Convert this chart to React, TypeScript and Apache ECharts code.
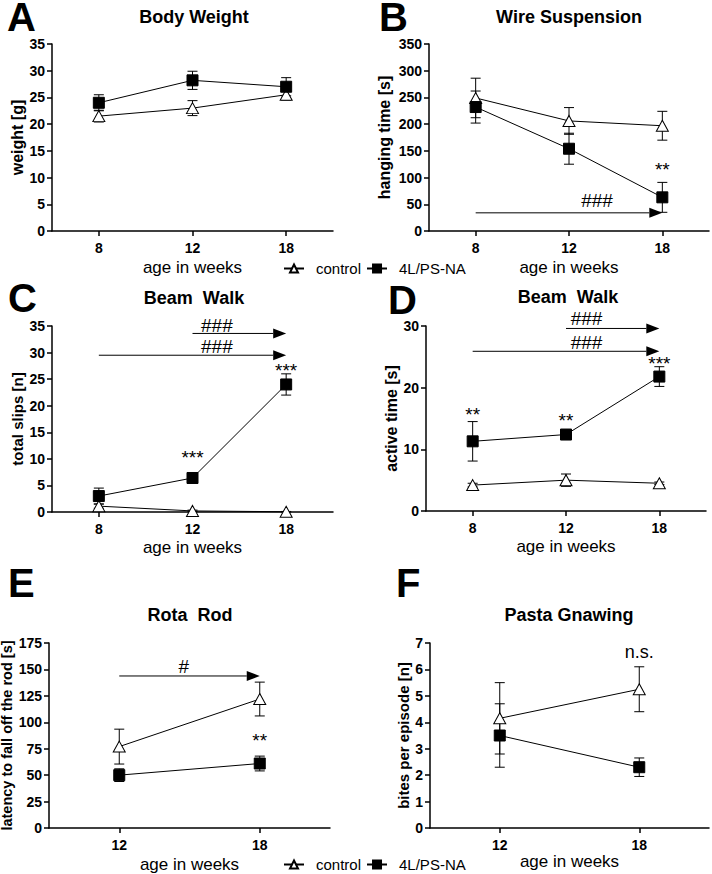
import React, { useEffect, useRef } from 'react';
import * as echarts from 'echarts';

const FONT = "'Liberation Sans', Arial, Helvetica, sans-serif";

// categories
const weeks3 = ['8', '12', '18'];
const weeks2 = ['12', '18'];

// A – Body Weight
const bwCtrl = [21.5, 23.0, 25.5];
const bwCtrlErr = [1.1, 1.4, 1.0];
const bwLes = [24.0, 28.2, 27.0];
const bwLesErr = [1.5, 1.7, 1.7];

// B – Wire Suspension
const wsCtrl = [249, 206, 197];
const wsCtrlErr = [37, 25, 27];
const wsLes = [232, 154, 63];
const wsLesErr = [30, 29, 28];

// C – Beam Walk, total slips
const slipsCtrl = [1.1, 0.2, 0.05];
const slipsCtrlErr = [0.4, 0.15, 0.05];
const slipsLes = [3.0, 6.4, 24.0];
const slipsLesErr = [1.5, 0.5, 2.0];

// D – Beam Walk, active time
const activeCtrl = [4.2, 5.0, 4.5];
const activeCtrlErr = [0.3, 1.0, 0.2];
const activeLes = [11.3, 12.4, 21.8];
const activeLesErr = [3.2, 0.4, 1.6];

// E – Rota Rod
const rotaCtrl = [77, 122];
const rotaCtrlErr = [16.5, 16];
const rotaLes = [50, 61];
const rotaLesErr = [6, 7];

// F – Pasta Gnawing
const pastaCtrl = [4.15, 5.25];
const pastaCtrlErr = [1.35, 0.85];
const pastaLes = [3.5, 2.3];
const pastaLesErr = [1.2, 0.35];

// significance arrows: [fromCategory, toCategory, yValue]
const wsArrows = [[0, 2, 34]];
const slipsArrows = [[1, 2, 33.6], [0, 2, 29.5]];
const activeArrows = [[1, 2, 29.6], [0, 2, 25.9]];
const rotaArrows = [[0, 1, 143.8]];

// significance marks: [fromCategory, toCategory, fraction, yValue, text]
const wsMarks: any[] = [[2, 2, 0, 123, '**'], [0, 2, 0.65, 58, '###']];
const slipsMarks: any[] = [
  [1, 1, 0, 11.1, '***'],
  [2, 2, 0, 27.3, '***'],
  [1, 2, 0.26, 35.1, '###'],
  [0, 2, 0.63, 31.1, '###'],
];
const activeMarks: any[] = [
  [0, 0, 0, 16.3, '**'],
  [1, 1, 0, 15.25, '**'],
  [2, 2, 0, 24.5, '***'],
  [1, 2, 0.22, 31.2, '###'],
  [0, 2, 0.61, 27.4, '###'],
];
const rotaMarks: any[] = [[1, 1, 0, 86.2, '**'], [0, 1, 0.46, 152.3, '#']];
const pastaMarks: any[] = [[1, 1, 0, 6.66, 'n.s.']];

const legendNames = ['control', '4L/PS-NA'];

type Panel = {
  grid: { left: number; top: number; width: number; height: number };
  cats: string[];
  ctrl: number[]; ctrlErr: number[]; les: number[]; lesErr: number[];
  yMax: number; yInterval: number;
  yName: string; yNameGap: number; yNameSize: number;
  xNameGap: number;
  arrows: number[][]; marks: any[];
};

const panels: Panel[] = [
  { grid: { left: 52, top: 44, width: 281, height: 187 }, cats: weeks3, ctrl: bwCtrl, ctrlErr: bwCtrlErr, les: bwLes, lesErr: bwLesErr, yMax: 35, yInterval: 5, yName: 'weight [g]', yNameGap: 26, yNameSize: 16, xNameGap: 28, arrows: [], marks: [] },
  { grid: { left: 429, top: 44, width: 280, height: 187 }, cats: weeks3, ctrl: wsCtrl, ctrlErr: wsCtrlErr, les: wsLes, lesErr: wsLesErr, yMax: 350, yInterval: 50, yName: 'hanging time [s]', yNameGap: 37, yNameSize: 16, xNameGap: 28, arrows: wsArrows, marks: wsMarks },
  { grid: { left: 52, top: 326, width: 281, height: 186 }, cats: weeks3, ctrl: slipsCtrl, ctrlErr: slipsCtrlErr, les: slipsLes, lesErr: slipsLesErr, yMax: 35, yInterval: 5, yName: 'total slips [n]', yNameGap: 27, yNameSize: 15, xNameGap: 27, arrows: slipsArrows, marks: slipsMarks },
  { grid: { left: 426, top: 326, width: 280, height: 185 }, cats: weeks3, ctrl: activeCtrl, ctrlErr: activeCtrlErr, les: activeLes, lesErr: activeLesErr, yMax: 30, yInterval: 10, yName: 'active time [s]', yNameGap: 24, yNameSize: 16, xNameGap: 27, arrows: activeArrows, marks: activeMarks },
  { grid: { left: 49, top: 643, width: 281, height: 185 }, cats: weeks2, ctrl: rotaCtrl, ctrlErr: rotaCtrlErr, les: rotaLes, lesErr: rotaLesErr, yMax: 175, yInterval: 25, yName: 'latency to fall off the rod [s]', yNameGap: 33, yNameSize: 14.5, xNameGap: 28, arrows: rotaArrows, marks: rotaMarks },
  { grid: { left: 430, top: 643, width: 279, height: 185 }, cats: weeks2, ctrl: pastaCtrl, ctrlErr: pastaCtrlErr, les: pastaLes, lesErr: pastaLesErr, yMax: 7, yInterval: 1, yName: 'bites per episode [n]', yNameGap: 18, yNameSize: 15, xNameGap: 25, arrows: [], marks: pastaMarks },
];

const titles = [
  { text: 'Body Weight', x: 194, y: 17 },
  { text: 'Wire Suspension', x: 569, y: 17 },
  { text: 'Beam  Walk', x: 194, y: 298 },
  { text: 'Beam  Walk', x: 568, y: 297 },
  { text: 'Rota  Rod', x: 190, y: 615 },
  { text: 'Pasta Gnawing', x: 569, y: 615 },
];

const letters = [
  { text: 'A', x: 7, y: 0 },
  { text: 'B', x: 379, y: 0 },
  { text: 'C', x: 8, y: 281 },
  { text: 'D', x: 388, y: 283 },
  { text: 'E', x: 8, y: 566 },
  { text: 'F', x: 396, y: 566 },
];

const BLACK = '#000';

function errSeries(i: number, vals: number[], errs: number[]) {
  return {
    type: 'custom',
    xAxisIndex: i,
    yAxisIndex: i,
    z: 1,
    silent: true,
    clip: false,
    data: vals.map((v, k) => [k, v - errs[k], v + errs[k]]),
    encode: { x: 0, y: [1, 2] },
    renderItem: (_p: any, api: any) => {
      const x = api.value(0);
      const lo = api.coord([x, api.value(1)]);
      const hi = api.coord([x, api.value(2)]);
      const w = 5;
      const st = { stroke: BLACK, lineWidth: 1, fill: null };
      return {
        type: 'group',
        children: [
          { type: 'line', shape: { x1: lo[0], y1: lo[1], x2: hi[0], y2: hi[1] }, style: st },
          { type: 'line', shape: { x1: lo[0] - w, y1: lo[1], x2: lo[0] + w, y2: lo[1] }, style: st },
          { type: 'line', shape: { x1: hi[0] - w, y1: hi[1], x2: hi[0] + w, y2: hi[1] }, style: st },
        ],
      };
    },
  };
}

function arrowSeries(i: number, arrows: number[][]) {
  return {
    type: 'custom',
    xAxisIndex: i,
    yAxisIndex: i,
    z: 4,
    silent: true,
    clip: false,
    data: arrows,
    encode: { x: [0, 1], y: 2 },
    renderItem: (_p: any, api: any) => {
      const a = api.coord([api.value(0), api.value(2)]);
      const b = api.coord([api.value(1), api.value(2)]);
      const L = 13;
      const H = 5;
      return {
        type: 'group',
        children: [
          { type: 'line', shape: { x1: a[0], y1: a[1], x2: b[0] - L, y2: b[1] }, style: { stroke: BLACK, lineWidth: 1 } },
          { type: 'polygon', shape: { points: [[b[0] - L, b[1] - H], [b[0], b[1]], [b[0] - L, b[1] + H]] }, style: { fill: BLACK } },
        ],
      };
    },
  };
}

function markSeries(i: number, marks: any[]) {
  return {
    type: 'custom',
    xAxisIndex: i,
    yAxisIndex: i,
    z: 4,
    silent: true,
    clip: false,
    data: marks.map((m) => [m[0], m[1], m[2], m[3]]),
    encode: { x: [0, 1], y: 3 },
    renderItem: (p: any, api: any) => {
      const a = api.coord([api.value(0), api.value(3)]);
      const b = api.coord([api.value(1), api.value(3)]);
      const f = api.value(2);
      const t: string = marks[p.dataIndex][4];
      const x = a[0] + (b[0] - a[0]) * f;
      const dy = t.indexOf('*') >= 0 ? 4 : 0;
      return {
        type: 'text',
        x,
        y: a[1] + dy,
        style: {
          text: t,
          fontFamily: FONT,
          fontSize: t === 'n.s.' ? 18 : 19,
          fill: BLACK,
          align: 'center',
          verticalAlign: 'middle',
        },
      };
    },
  };
}

function buildOption() {
  const grid: any[] = [];
  const xAxis: any[] = [];
  const yAxis: any[] = [];
  const series: any[] = [];

  panels.forEach((p, i) => {
    grid.push({ ...p.grid, containLabel: false, outerBoundsMode: 'none' });
    xAxis.push({
      gridIndex: i,
      type: 'category',
      data: p.cats,
      boundaryGap: true,
      name: 'age in weeks',
      nameLocation: 'middle',
      nameGap: p.xNameGap,
      nameTextStyle: { fontFamily: FONT, fontSize: 17, color: BLACK },
      axisLine: { show: true, lineStyle: { color: BLACK, width: 1.5 } },
      axisTick: { show: true, alignWithLabel: true, length: 5, lineStyle: { color: BLACK, width: 1.5 } },
      axisLabel: { fontFamily: FONT, fontWeight: 'bold', fontSize: 14, color: BLACK, margin: 10 },
      splitLine: { show: false },
    });
    yAxis.push({
      gridIndex: i,
      type: 'value',
      min: 0,
      max: p.yMax,
      interval: p.yInterval,
      name: p.yName,
      nameLocation: 'middle',
      nameGap: p.yNameGap,
      nameTextStyle: { fontFamily: FONT, fontWeight: 'bold', fontSize: p.yNameSize, color: BLACK },
      axisLine: { show: true, lineStyle: { color: BLACK, width: 1.5 } },
      axisTick: { show: true, length: 5, lineStyle: { color: BLACK, width: 1.5 } },
      axisLabel: { fontFamily: FONT, fontWeight: 'bold', fontSize: 14, color: BLACK, margin: 7 },
      splitLine: { show: false },
    });

    series.push(errSeries(i, p.ctrl, p.ctrlErr));
    series.push(errSeries(i, p.les, p.lesErr));
    series.push({
      type: 'line',
      name: 'control',
      xAxisIndex: i,
      yAxisIndex: i,
      data: p.ctrl,
      z: 3,
      clip: false,
      symbol: 'triangle',
      symbolSize: [12, 11],
      showAllSymbol: true,
      lineStyle: { color: BLACK, width: 1 },
      itemStyle: { color: '#fff', borderColor: BLACK, borderWidth: 1 },
      emphasis: { disabled: true },
    });
    series.push({
      type: 'line',
      name: '4L/PS-NA',
      xAxisIndex: i,
      yAxisIndex: i,
      data: p.les,
      z: 3,
      clip: false,
      symbol: 'rect',
      symbolSize: 11,
      showAllSymbol: true,
      lineStyle: { color: BLACK, width: 1 },
      itemStyle: { color: BLACK, borderColor: BLACK, borderWidth: 1 },
      emphasis: { disabled: true },
    });
    if (p.arrows.length) series.push(arrowSeries(i, p.arrows));
    if (p.marks.length) series.push(markSeries(i, p.marks));
  });

  const legendBase = {
    data: legendNames,
    left: 283,
    orient: 'horizontal',
    itemWidth: 20,
    itemHeight: 10,
    itemGap: 5,
    selectedMode: false,
    padding: 0,
    textStyle: { fontFamily: FONT, fontSize: 15, color: BLACK, padding: [0, 0, 0, 7] },
  };

  const graphic: any[] = [];
  titles.forEach((t) => {
    graphic.push({
      type: 'text',
      x: t.x,
      y: t.y,
      style: { text: t.text, fontFamily: FONT, fontWeight: 'bold', fontSize: 18, fill: BLACK, align: 'center', verticalAlign: 'middle' },
    });
  });
  letters.forEach((t) => {
    graphic.push({
      type: 'text',
      x: t.x,
      y: t.y,
      style: { text: t.text, fontFamily: FONT, fontWeight: 'bold', fontSize: 40, lineHeight: 34, fill: BLACK, align: 'left', verticalAlign: 'top' },
    });
  });

  return {
    animation: false,
    backgroundColor: '#fff',
    textStyle: { fontFamily: FONT },
    grid,
    xAxis,
    yAxis,
    series,
    legend: [
      { ...legendBase, top: 261 },
      { ...legendBase, top: 857 },
    ],
    graphic,
  };
}

export default function App() {
  const ref = useRef<HTMLDivElement>(null);
  useEffect(() => {
    document.body.style.margin = '0';
    const chart = echarts.init(ref.current as HTMLDivElement, null, { renderer: 'svg' });
    chart.setOption(buildOption() as any);
    return () => {
      chart.dispose();
    };
  }, []);
  return <div ref={ref} style={{ width: 712, height: 874 }} />;
}
